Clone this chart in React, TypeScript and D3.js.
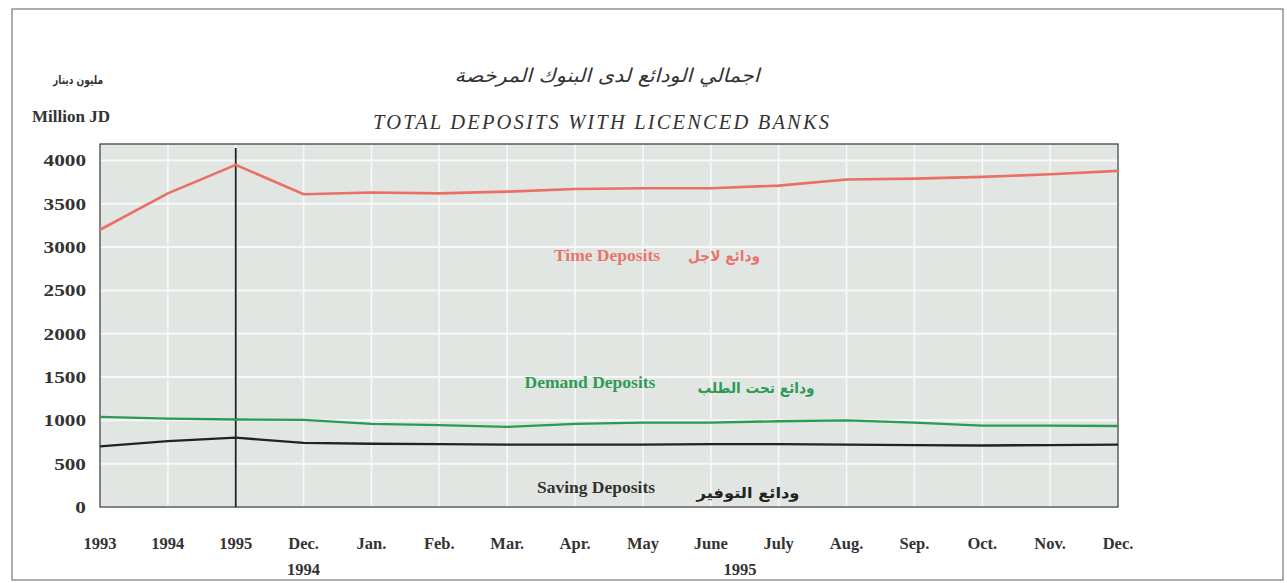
import React from "react";
import * as d3 from "d3";

const categories = ["1993","1994","1995","Dec.","Jan.","Feb.","Mar.","Apr.","May","June","July","Aug.","Sep.","Oct.","Nov.","Dec."];
const timeDeposits = [3200,3620,3950,3610,3630,3620,3640,3670,3680,3680,3710,3780,3790,3810,3840,3880];
const demandDeposits = [1040,1020,1010,1005,960,945,925,960,975,975,990,1000,975,940,940,935];
const savingDeposits = [700,760,800,740,730,725,720,720,720,725,725,720,715,710,715,720];
const yTicks = [0,500,1000,1500,2000,2500,3000,3500,4000];

const W = 1287, H = 583;
const left = 100, right = 1118, top = 144, bottom = 507;

export default function App() {
  const x = d3.scalePoint<number>().domain(d3.range(categories.length)).range([left, right]);
  const y = d3.scaleLinear().domain([0, 4190]).range([bottom, top]);
  const line = d3.line<number>().x((_, i) => x(i)!).y(d => y(d));
  const serif = "'Liberation Serif', 'DejaVu Serif', serif";
  const arabic = "'DejaVu Sans', 'Noto Sans', sans-serif";
  return (
    <svg width={W} height={H} style={{ position: "absolute", left: 0, top: 0, display: "block", background: "#fff" }}>
      <rect x={12} y={9} width={1271} height={571} fill="none" stroke="#777" strokeWidth={1.2} />
      {/* titles */}
      <text x={607} y={82} textAnchor="middle" fontFamily={arabic} fontStyle="italic" fontSize={19} fill="#333" direction="rtl" textLength={305} lengthAdjust="spacingAndGlyphs">اجمالي الودائع لدى البنوك المرخصة</text>
      <text x={601} y={129} textAnchor="middle" fontFamily={serif} fontStyle="italic" fontSize={20.5} fill="#333" textLength={456} lengthAdjust="spacing">TOTAL DEPOSITS WITH LICENCED BANKS</text>
      <text x={78} y={84} textAnchor="middle" fontFamily={arabic} fontWeight="bold" fontSize={11.5} fill="#333" direction="rtl" textLength={50} lengthAdjust="spacingAndGlyphs">مليون دينار</text>
      <text x={71} y={122} textAnchor="middle" fontFamily={serif} fontWeight="bold" fontSize={17} fill="#333">Million JD</text>
      {/* plot background */}
      <rect x={left} y={top} width={right - left} height={bottom - top} fill="#e2e6e3" />
      {yTicks.map(t => (
        <line key={"hg" + t} x1={left} x2={right} y1={y(t)} y2={y(t)} stroke="#f7f8f7" strokeWidth={2} />
      ))}
      {categories.map((c, i) => (
        <line key={"vg" + i} x1={x(i)} x2={x(i)} y1={top} y2={bottom} stroke="#f7f8f7" strokeWidth={1.6} />
      ))}
      <rect x={left} y={top} width={right - left} height={bottom - top} fill="none" stroke="#444" strokeWidth={1.3} />
      {/* separator */}
      <line x1={x(2)} x2={x(2)} y1={148} y2={bottom} stroke="#222" strokeWidth={1.8} />
      {/* series */}
      <path d={line(timeDeposits)!} fill="none" stroke="#ea6f66" strokeWidth={2.6} />
      <path d={line(demandDeposits)!} fill="none" stroke="#2a9a55" strokeWidth={2.3} />
      <path d={line(savingDeposits)!} fill="none" stroke="#222" strokeWidth={2.3} />
      {/* y ticks */}
      {yTicks.map(t => (
        <text key={"yt" + t} transform={`translate(86,${y(t) + 6}) scale(1.25,1)`} textAnchor="end" fontFamily={serif} fontWeight="bold" fontSize={17} fill="#333">{t}</text>
      ))}
      {/* x ticks */}
      {categories.map((c, i) => (
        <text key={"xt" + i} x={x(i)} y={549} textAnchor="middle" fontFamily={serif} fontWeight="bold" fontSize={16.5} fill="#333">{c}</text>
      ))}
      <text x={x(3)} y={575} textAnchor="middle" fontFamily={serif} fontWeight="bold" fontSize={16.5} fill="#333">1994</text>
      <text x={740} y={575} textAnchor="middle" fontFamily={serif} fontWeight="bold" fontSize={16.5} fill="#333">1995</text>
      {/* labels */}
      <text x={607} y={261} textAnchor="middle" fontFamily={serif} fontWeight="bold" fontSize={17.5} fill="#e8756d">Time Deposits</text>
      <text x={724} y={261} textAnchor="middle" fontFamily={arabic} fontWeight="bold" fontSize={15} fill="#e8756d" direction="rtl" textLength={72} lengthAdjust="spacingAndGlyphs">ودائع لاجل</text>
      <text x={590} y={388} textAnchor="middle" fontFamily={serif} fontWeight="bold" fontSize={17.5} fill="#2e9a55">Demand Deposits</text>
      <text x={756} y={393} textAnchor="middle" fontFamily={arabic} fontWeight="bold" fontSize={15} fill="#2e9a55" direction="rtl" textLength={117} lengthAdjust="spacingAndGlyphs">ودائع تحت الطلب</text>
      <text x={596} y={493} textAnchor="middle" fontFamily={serif} fontWeight="bold" fontSize={17.5} fill="#333">Saving Deposits</text>
      <text x={748} y={498} textAnchor="middle" fontFamily={arabic} fontWeight="bold" fontSize={15} fill="#222" direction="rtl" textLength={103} lengthAdjust="spacingAndGlyphs">ودائع التوفير</text>
    </svg>
  );
}
